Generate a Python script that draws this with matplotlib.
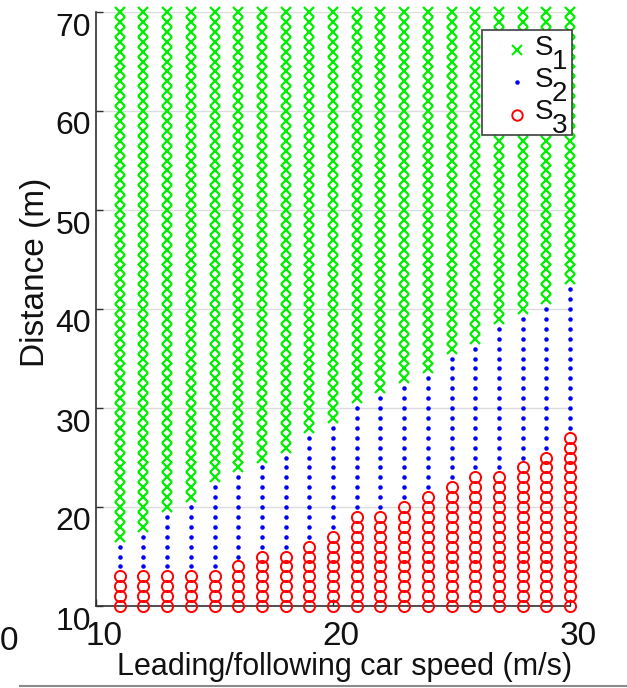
import matplotlib
matplotlib.use('Agg')
import matplotlib.pyplot as plt
from matplotlib.transforms import ScaledTranslation
from matplotlib.patches import Rectangle
from matplotlib.lines import Line2D

# --- data ---
speeds = list(range(11, 31))                      # m/s, one column per speed
s3_top = [13, 13, 13, 13, 13, 14, 15, 15, 16, 17,
          19, 19, 20, 21, 22, 23, 23, 24, 25, 27]  # highest S3 distance per column
s1_start = [17, 18, 20, 21, 23, 24, 25, 26, 28, 29,
            31, 32, 33, 34, 36, 37, 39, 40, 41, 43]  # lowest S1 distance per column
dist_min, dist_max = 10, 70
x_ticks = [10, 20, 30]
y_ticks = [10, 20, 30, 40, 50, 60, 70]
legend_names = ['S', 'S', 'S']
legend_subs = ['1', '2', '3']

# grid of 1 m steps split into the three regions
s1_x, s1_y, s2_x, s2_y, s3_x, s3_y = [], [], [], [], [], []
for v, top, start in zip(speeds, s3_top, s1_start):
    for d in range(dist_min, dist_max + 1):
        if d <= top:
            s3_x.append(v); s3_y.append(d)
        elif d < start:
            s2_x.append(v); s2_y.append(d)
        else:
            s1_x.append(v); s1_y.append(d)

plt.rcParams['font.family'] = ['Liberation Sans', 'DejaVu Sans']

W, H = 627, 688
fig = plt.figure(figsize=(W / 100, H / 100), dpi=100)
ax = fig.add_axes([96 / W, (H - 606) / H, 474 / W, 594 / H])


def fx(px):
    return px / W


def fy(py):
    return 1 - py / H


green, blue, red = '#00ee00', '#0000ff', '#ff0000'
ax.plot(s1_x, s1_y, 'x', color=green, ms=7.5, mew=1.6, ls='none', clip_on=False, zorder=3)
ax.plot(s2_x, s2_y, '.', color=blue, ms=4.5, ls='none', clip_on=False, zorder=3)
ax.plot(s3_x, s3_y, 'o', mfc='none', mec=red, ms=8, mew=1.4, ls='none', clip_on=False, zorder=3)

ax.set_xlim(10, 30)
ax.set_ylim(dist_min, dist_max)
ax.set_xticks(x_ticks)
ax.set_yticks(y_ticks)
ax.yaxis.grid(True, color='#dcdcdc', lw=1)
ax.set_axisbelow(True)
for side in ['top', 'right']:
    ax.spines[side].set_visible(False)
for side in ['left', 'bottom']:
    ax.spines[side].set_color('#303030')
    ax.spines[side].set_linewidth(1.2)
ax.tick_params(direction='in', length=5, width=1, color='#303030', labelcolor='#111111')
ax.tick_params(axis='y', labelsize=23, pad=3.6)
ax.tick_params(axis='x', labelsize=24, pad=11)

for lab in ax.get_yticklabels():
    lab.set_transform(lab.get_transform() + ScaledTranslation(0, -0.12, fig.dpi_scale_trans))
for lab in ax.get_xticklabels():
    lab.set_transform(lab.get_transform() + ScaledTranslation(0.08, 0, fig.dpi_scale_trans))

# axis labels
fig.text(fx(36), fy(272), 'Distance (m)', rotation=90, ha='center', va='center',
         fontsize=24, color='#111111')
fig.text(fx(345), fy(675), 'Leading/following car speed (m/s)', ha='center', va='baseline',
         fontsize=22, color='#111111')
fig.text(fx(9), fy(642), '0', ha='center', va='center', fontsize=24, color='#111111')

# legend box drawn by hand (subscripts spill past the frame like the original)
ax.add_patch(Rectangle((fx(482), fy(135)), fx(90), 105 / H, transform=fig.transFigure,
                       facecolor='white', edgecolor='#404040', lw=1.2, zorder=10, clip_on=False))
ax.plot([fx(517)], [fy(50)], 'x', color=green, ms=6.5, mew=1.5, transform=fig.transFigure,
        clip_on=False, zorder=11)
ax.plot([fx(517)], [fy(82)], '.', color=blue, ms=4.5, transform=fig.transFigure,
        clip_on=False, zorder=11)
ax.plot([fx(517)], [fy(115)], 'o', mfc='none', mec=red, ms=7.5, mew=1.4,
        transform=fig.transFigure, clip_on=False, zorder=11)
for name, sub, yc in zip(legend_names, legend_subs, [48, 80, 112]):
    fig.text(fx(535), fy(yc), name, ha='left', va='center', fontsize=20, color='#111111')
    fig.text(fx(552), fy(yc + 14), sub, ha='left', va='center', fontsize=20, color='#111111')

# grey rule along the bottom edge
fig.add_artist(Line2D([fx(20), 1], [fy(686), fy(686)], color='#8a8a8a', lw=1.5,
                      transform=fig.transFigure))

fig.savefig('out.png', dpi=100)
